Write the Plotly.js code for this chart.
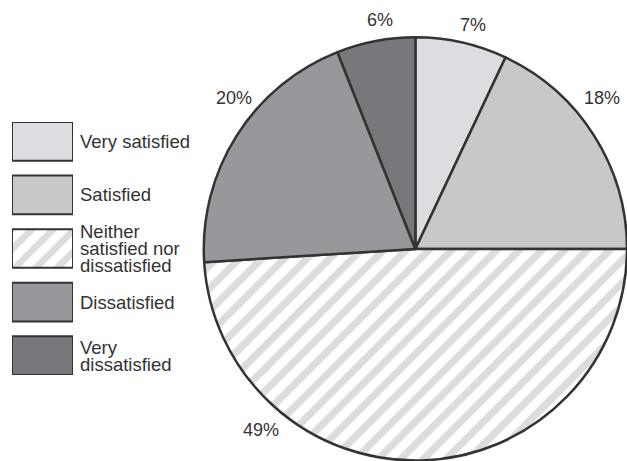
<!DOCTYPE html>
<html><head><meta charset="utf-8">
<script src="https://cdn.plot.ly/plotly-3.0.1.min.js"></script>
<style>html,body{margin:0;padding:0;background:#fff}</style>
</head><body>
<div id="chart" style="width:627px;height:461px"></div>
<script>
var categories = ["Very satisfied", "Satisfied", "Neither\nsatisfied nor\ndissatisfied", "Dissatisfied", "Very\ndissatisfied"];
var values = [7, 18, 49, 20, 6];
var percentLabels = ["7%", "18%", "49%", "20%", "6%"];
var sliceColors = ["#dcdde0", "#c7c8ca", "#dcdcde", "#97989c", "#77787c"];
var patternShapes = ["", "", "/", "", ""];

var W = 627, H = 461;
// label positions in pixels (layout)
var labelPos = [[473, 25], [602, 98], [261, 430], [234, 98], [380, 20]];

var pie = {
  type: "pie",
  values: values,
  labels: categories,
  sort: false,
  direction: "clockwise",
  rotation: 0,
  textinfo: "none",
  hoverinfo: "none",
  showlegend: false,
  domain: {x: [0.325, 1], y: [0, 0.92]},
  marker: {
    colors: sliceColors,
    line: {color: "#333333", width: 2.5},
    pattern: {shape: patternShapes, fgcolor: "#dcdcde", bgcolor: "#ffffff", size: 16, solidity: 0.45}
  }
};

var idx = categories.map(function (_, i) { return i; });
var legendBars = {
  type: "bar",
  orientation: "h",
  x: categories.map(function () { return 1; }),
  y: idx,
  width: 0.722,
  xaxis: "x2",
  yaxis: "y2",
  hoverinfo: "none",
  showlegend: false,
  marker: {
    color: sliceColors,
    line: {color: "#333333", width: 2},
    pattern: {shape: patternShapes, fgcolor: "#dcdcde", bgcolor: "#ffffff", size: 15, solidity: 0.45}
  }
};

var annotations = [];
percentLabels.forEach(function (t, i) {
  annotations.push({
    text: t, xref: "paper", yref: "paper",
    x: labelPos[i][0] / W, y: 1 - labelPos[i][1] / H,
    xanchor: "center", yanchor: "middle", showarrow: false,
    font: {family: "Liberation Sans, Arial, sans-serif", size: 18, color: "#333333"}
  });
});
var lineGap = 17 / 53.3; // in y2 units
categories.forEach(function (c, i) {
  var lines = c.split("\n");
  lines.forEach(function (ln, j) {
    annotations.push({
      text: ln, xref: "paper", yref: "y2",
      x: 78 / W, y: i + (j - (lines.length - 1) / 2) * lineGap,
      xanchor: "left", yanchor: "middle", showarrow: false,
      font: {family: "Liberation Sans, Arial, sans-serif", size: 18.5, color: "#333333"}
    });
  });
});

var layout = {
  width: W, height: H,
  margin: {l: 0, r: 0, t: 0, b: 0},
  paper_bgcolor: "#ffffff", plot_bgcolor: "rgba(0,0,0,0)",
  showlegend: false,
  xaxis2: {domain: [12 / W, 73 / W], range: [0, 1], visible: false, fixedrange: true},
  yaxis2: {domain: [(H - 375) / H, (H - 122) / H], range: [4.361, -0.361], visible: false, fixedrange: true, anchor: "x2"},
  annotations: annotations
};

Plotly.newPlot("chart", [pie, legendBars], layout, {displayModeBar: false, staticPlot: true});
</script>
</body></html>
